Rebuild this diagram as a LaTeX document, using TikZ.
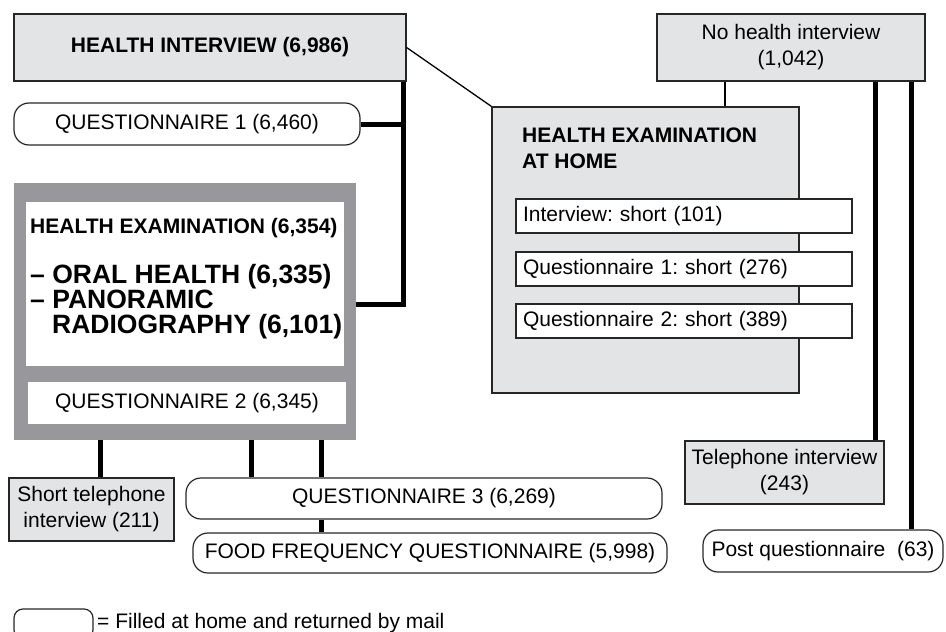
\documentclass[tikz,border=0pt]{standalone}
\usepackage{fontspec}
\setmainfont{Liberation Sans}
\frenchspacing
\definecolor{lightgrey}{HTML}{E3E4E6}
\definecolor{darkgrey}{HTML}{98989C}
\begin{document}
\begin{tikzpicture}[x=1pt, y=-1pt,
  every node/.style={font=\fontsize{21}{26}\selectfont, inner sep=0pt},
  greybox/.style={draw=black!85, fill=lightgrey, line width=1.2pt, align=center},
  mailbox/.style={draw=black!85, rounded corners=15pt, line width=1.2pt},
  shortbox/.style={draw=black!85, fill=white, line width=1.2pt, minimum height=34pt,
    text width=322pt, inner xsep=7pt, align=left},
  bold/.style={font=\fontsize{21}{26}\selectfont\bfseries},
  bigbold/.style={font=\fontsize{26.5}{25}\selectfont\bfseries},
  link/.style={line width=5pt},
  thinlink/.style={line width=1.3pt}]
  \useasboundingbox (0,0) rectangle (946,632);
  % top row
  \node [greybox, bold, minimum width=392pt, minimum height=67pt] (hi) at (210,47.5) {HEALTH INTERVIEW (6,986)};
  \node [greybox, minimum width=268pt, minimum height=67pt] (nohi) at (791,47.5) {No health interview\\(1,042)};
  \node [mailbox, minimum width=346pt, minimum height=42pt] (q1) at (187,124) {QUESTIONNAIRE 1 (6,460)};
  % examination block
  \node [fill=darkgrey, minimum width=342pt, minimum height=257pt] (exam) at (185,311.5) {};
  \node [fill=white, minimum width=318pt, minimum height=164pt] (examin) at (185,284) {};
  \node [bold, anchor=base west] (exam1) at (30,233) {HEALTH EXAMINATION (6,354)};
  \node [bigbold, anchor=base west] (exam2) at (30,283) {– ORAL HEALTH (6,335)};
  \node [bigbold, anchor=base west] (exam3) at (30,308) {– PANORAMIC};
  \node [bigbold, anchor=base west] (exam4) at (52,333) {RADIOGRAPHY (6,101)};
  \node [fill=white, minimum width=318pt, minimum height=42pt] (q2) at (187,403) {QUESTIONNAIRE 2 (6,345)};
  % examination at home
  \node [greybox, minimum width=307pt, minimum height=286pt] (home) at (645.5,250) {};
  \node [bold, anchor=base west] (home1) at (522,142) {HEALTH EXAMINATION};
  \node [bold, anchor=base west] (home2) at (522,168) {AT HOME};
  \node [shortbox] (short1) at (684,216) {Interview: short (101)};
  \node [shortbox] (short2) at (684,269) {Questionnaire 1: short (276)};
  \node [shortbox] (short3) at (684,321) {Questionnaire 2: short (389)};
  % bottom row
  \node [greybox, minimum width=165pt, minimum height=63pt] (stel) at (91.5,509.5) {Short telephone\\interview (211)};
  \node [mailbox, minimum width=476pt, minimum height=41pt] (q3) at (424,498.5) {QUESTIONNAIRE 3 (6,269)};
  \node [mailbox, minimum width=474pt, minimum height=40pt] (ffq) at (430,553) {FOOD FREQUENCY QUESTIONNAIRE (5,998)};
  \node [greybox, minimum width=199pt, minimum height=63pt] (tel) at (784.5,472.5) {Telephone interview\\(243)};
  \node [mailbox, minimum width=240pt, minimum height=42pt] (post) at (823,551) {Post questionnaire\ \ (63)};
  % legend
  \node [mailbox, rounded corners=9pt, minimum width=79pt, minimum height=30pt] (legend) at (53.5,624) {};
  \node [anchor=base west] (legendtext) at (97,628) {= Filled at home and returned by mail};
  % connectors
  \coordinate (hub) at ([xshift=-3.5pt]hi.south east);
  \draw [link] (hub) |- ([yshift=7.5pt]exam.east);
  \draw [link] (q1.east) -- (q1.east -| hub);
  \draw [link] (100,0 |- exam.south) -- (100,0 |- stel.north);
  \draw [link] (251,0 |- exam.south) -- (251,0 |- q3.north);
  \draw [link] (321,0 |- exam.south) -- (321,0 |- q3.north);
  \draw [link] (321,0 |- q3.south) -- (321,0 |- ffq.north);
  \draw [link] (875,0 |- nohi.south) -- (875,0 |- tel.north);
  \draw [link] (911,0 |- nohi.south) -- (911,0 |- post.north);
  \draw [thinlink, line width=2pt] (725,0 |- nohi.south) -- (725,0 |- home.north);
  \draw [thinlink] (hi.east) -- (home.north west);
\end{tikzpicture}
\end{document}
